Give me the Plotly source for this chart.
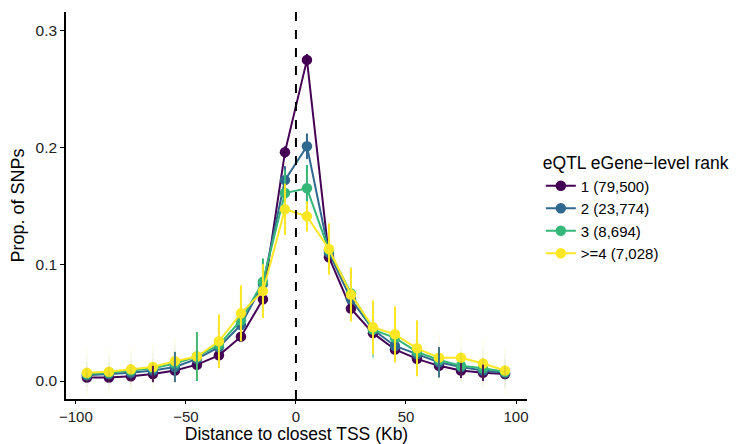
import plotly.graph_objects as go

dist = [-95, -85, -75, -65, -55, -45, -35, -25, -15, -5, 5, 15, 25, 35, 45, 55, 65, 75, 85, 95]

names = ["1 (79,500)", "2 (23,774)", "3 (8,694)", ">=4 (7,028)"]
colors = ["#440154", "#31688E", "#35B779", "#FDE725"]

prop_1 = [0.003, 0.003, 0.004, 0.006, 0.009, 0.014, 0.022, 0.038, 0.070, 0.196, 0.275, 0.106, 0.062, 0.041, 0.027, 0.019, 0.013, 0.009, 0.007, 0.006]
prop_2 = [0.005, 0.006, 0.007, 0.009, 0.012, 0.019, 0.029, 0.048, 0.083, 0.172, 0.201, 0.110, 0.070, 0.044, 0.030, 0.023, 0.016, 0.012, 0.009, 0.007]
prop_3 = [0.006, 0.007, 0.009, 0.011, 0.015, 0.021, 0.031, 0.052, 0.085, 0.161, 0.165, 0.112, 0.075, 0.044, 0.037, 0.025, 0.018, 0.013, 0.011, 0.008]
prop_4 = [0.007, 0.008, 0.010, 0.012, 0.017, 0.021, 0.034, 0.058, 0.077, 0.147, 0.141, 0.113, 0.074, 0.046, 0.040, 0.028, 0.020, 0.020, 0.015, 0.009]

# half-widths of the error bars
err_1 = [0.004, 0.004, 0.005, 0.007, 0.006, 0.006, 0.006, 0.006, 0.006, 0.005, 0.005, 0.005, 0.006, 0.006, 0.006, 0.007, 0.007, 0.0065, 0.007, 0.006]
err_2 = [0.010, 0.010, 0.010, 0.010, 0.013, 0.012, 0.012, 0.012, 0.014, 0.012, 0.011, 0.012, 0.013, 0.013, 0.014, 0.013, 0.013, 0.012, 0.012, 0.012]
err_3 = [0.015, 0.015, 0.015, 0.015, 0.016, 0.021, 0.018, 0.018, 0.020, 0.020, 0.020, 0.018, 0.022, 0.024, 0.018, 0.018, 0.016, 0.016, 0.016, 0.015]
err_4 = [0.020, 0.020, 0.020, 0.020, 0.020, 0.020, 0.023, 0.024, 0.023, 0.022, 0.013, 0.022, 0.023, 0.023, 0.024, 0.024, 0.020, 0.020, 0.020, 0.020]

# visibility (alpha) of each error bar
alpha_1 = [0.05, 0.05, 0.05, 1, 0.05, 0.05, 0.05, 0.05, 0.05, 1, 1, 0.05, 0.05, 0.05, 0.05, 0.05, 0.05, 1, 1, 0.05]
alpha_2 = [0.05, 0.05, 0.05, 0.05, 1, 0.05, 0.05, 0.05, 0.3, 1, 1, 0.05, 0.3, 0.05, 0.4, 0.05, 1, 0.05, 0.05, 0.05]
alpha_3 = [0.05, 0.05, 0.05, 0.05, 0.05, 1, 0.05, 0.3, 1, 1, 1, 0.3, 1, 0.5, 0.05, 0.05, 0.05, 0.05, 0.05, 0.05]
alpha_4 = [0.08, 0.08, 0.08, 0.08, 0.08, 0.08, 1, 1, 1, 1, 1, 1, 1, 1, 1, 1, 0.08, 0.08, 0.08, 0.08]

props = [prop_1, prop_2, prop_3, prop_4]
errs = [err_1, err_2, err_3, err_4]
alphas = [alpha_1, alpha_2, alpha_3, alpha_4]


def rgba(hexc, a):
    h = hexc.lstrip("#")
    r, g, b = int(h[0:2], 16), int(h[2:4], 16), int(h[4:6], 16)
    return f"rgba({r},{g},{b},{a})"


FONT = "Liberation Sans, Arial, Helvetica, sans-serif"
fig = go.Figure()

for name, col, p in zip(names, colors, props):
    fig.add_trace(go.Scatter(
        x=dist, y=p, mode="lines+markers", name=name,
        line=dict(color=col, width=2),
        marker=dict(color=col, size=10.5),
    ))

for name, col, p, e, a in zip(names, colors, props, errs, alphas):
    levels = sorted(set(a))
    for lv in levels:
        xs, ys = [], []
        for xi, yi, ei, ai in zip(dist, p, e, a):
            if ai == lv:
                xs += [xi, xi, None]
                ys += [yi - ei, yi + ei, None]
        fig.add_trace(go.Scatter(
            x=xs, y=ys, mode="lines", showlegend=False, hoverinfo="skip",
            line=dict(color=rgba(col, lv), width=2),
        ))

fig.add_vline(x=0, line=dict(color="black", width=2, dash="dash"))

fig.update_layout(
    width=746, height=444,
    margin=dict(l=66, r=219, t=12, b=45),
    paper_bgcolor="white", plot_bgcolor="white",
    font=dict(family=FONT, size=16, color="black"),
    legend=dict(
        title=dict(text="eQTL eGene\u2212level rank", font=dict(size=17.5)),
        x=1.03, xanchor="left", y=0.652, yanchor="top",
        font=dict(size=15), tracegroupgap=0, itemwidth=30,
    ),
    xaxis=dict(
        range=[-104.5, 105], tickvals=[-100, -50, 0, 50, 100],
        showline=True, linecolor="black", linewidth=1.5,
        ticks="outside", ticklen=3, tickcolor="black",
        showgrid=False, zeroline=False, automargin=False,
        title=dict(text="Distance to closest TSS (Kb)", font=dict(size=17.5), standoff=7),
        tickfont=dict(size=15, color="#222"),
    ),
    yaxis=dict(
        range=[-0.0154, 0.316], tickvals=[0.0, 0.1, 0.2, 0.3],
        ticktext=["0.0", "0.1", "0.2", "0.3"],
        showline=True, linecolor="black", linewidth=1.5,
        ticks="outside", ticklen=4, tickcolor="black",
        showgrid=False, zeroline=False, automargin=False,
        title=dict(text="Prop. of SNPs", font=dict(size=18), standoff=6),
        tickfont=dict(size=15.5, color="#222"),
    ),
)

fig.write_html("out.html")
